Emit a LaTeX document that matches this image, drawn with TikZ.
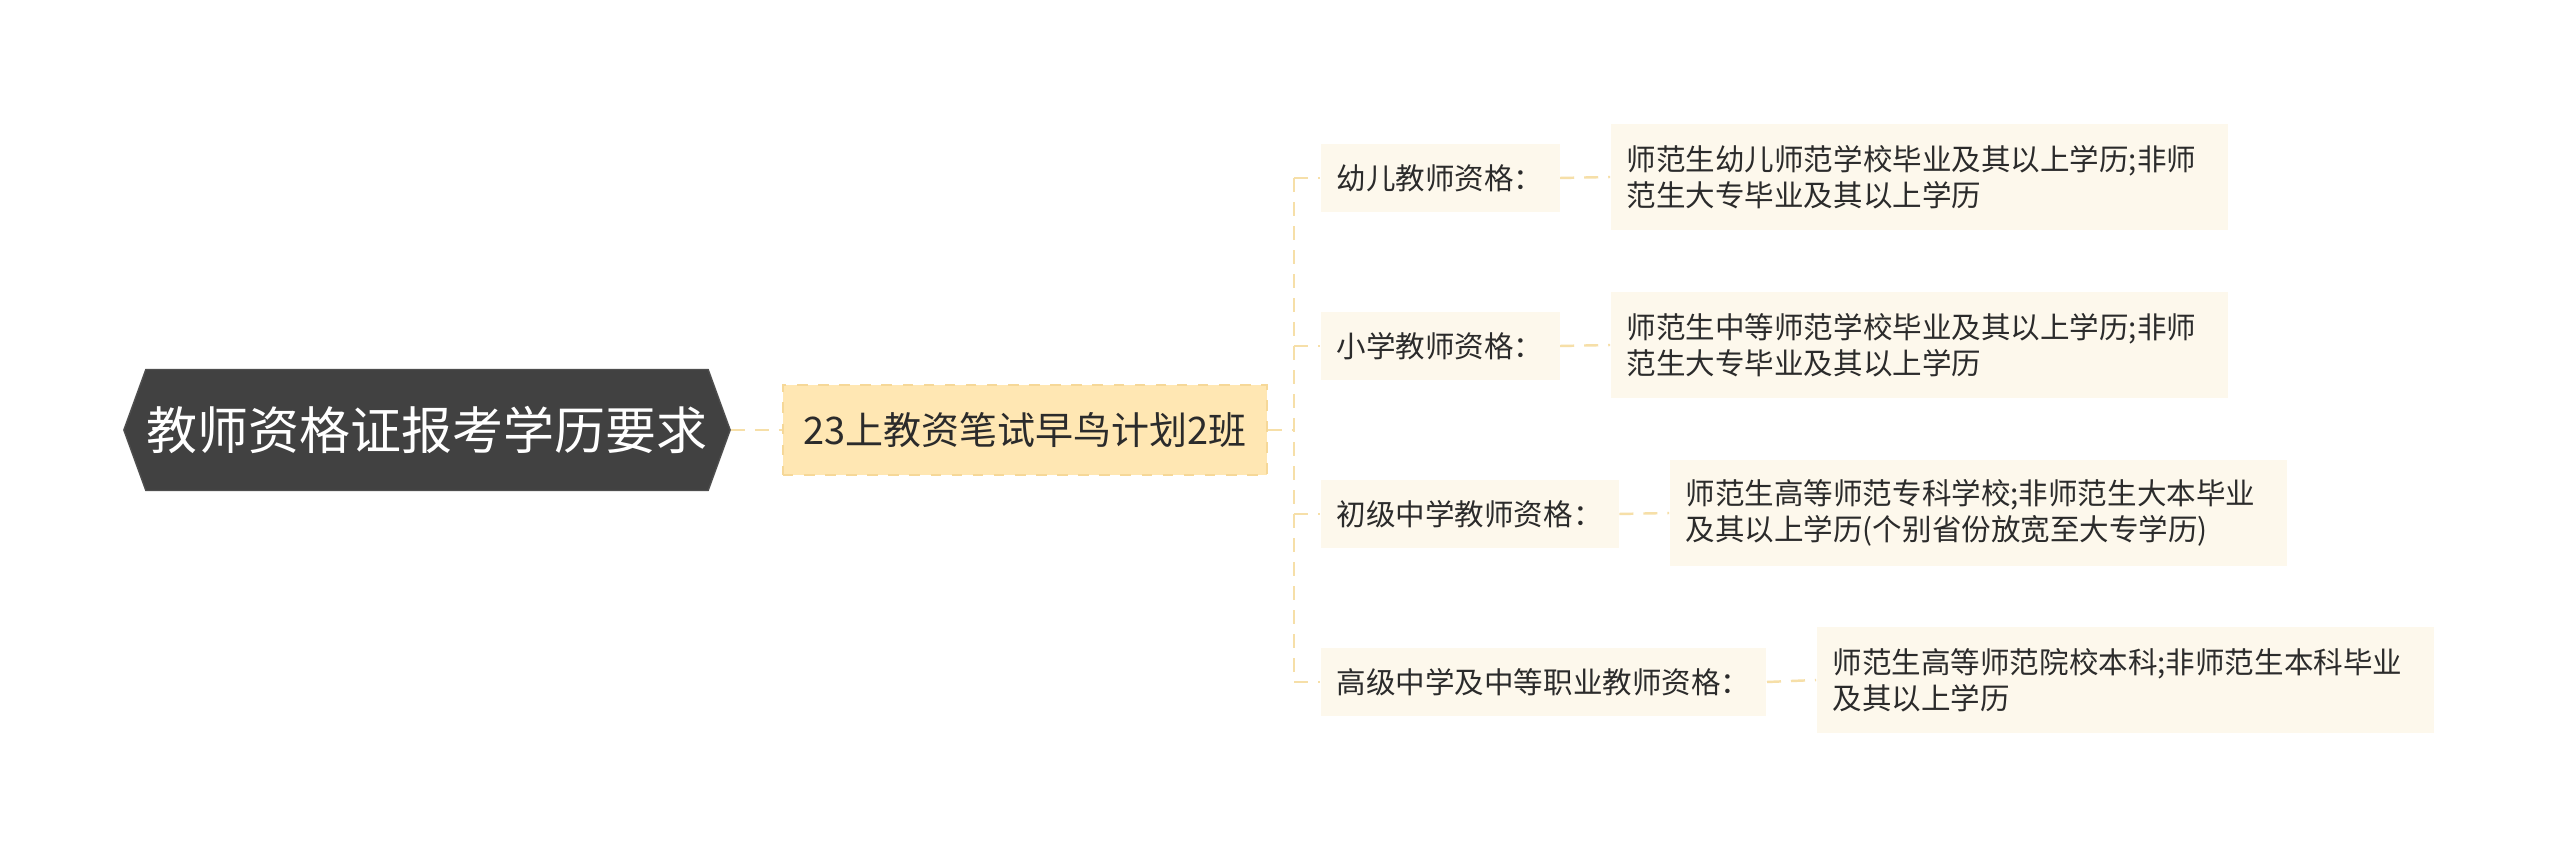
\documentclass[tikz,border=0pt]{standalone}
\usepackage{fontspec}
\setmainfont{Noto Sans CJK SC}
\usepackage{xcolor}
\usetikzlibrary{positioning,calc,shapes.symbols}
\definecolor{rootgray}{HTML}{414141}
\definecolor{rootedge}{HTML}{4E4E4E}
\definecolor{midfill}{HTML}{FFE7B3}
\definecolor{midedge}{HTML}{F6D898}
\definecolor{cream}{HTML}{FDF8EC}
\definecolor{linkgold}{HTML}{F6DFA8}
\definecolor{ink}{HTML}{2B2B2B}

\begin{document}
\begin{tikzpicture}[x=0.01cm,y=-0.01cm, rootn/.style={shape=signal,signal to=west and east,signal pointer angle=140,draw=rootedge,fill=rootgray,text=white,minimum width=6.06cm,minimum height=1.21cm,inner xsep=0pt,font=\fontsize{14.5pt}{17pt}\selectfont}, midn/.style={draw=midedge,dashed,fill=midfill,text=ink,minimum width=4.84cm,minimum height=0.9cm,inner xsep=0.19cm,font=\fontsize{10.8pt}{13pt}\selectfont}, brn/.style={fill=cream,text=ink,minimum height=0.68cm,inner xsep=0.16cm,anchor=west,font=\fontsize{8.4pt}{10.2pt}\selectfont}, leafn/.style={fill=cream,text=ink,minimum height=1.06cm,text width=5.85cm,align=left,inner xsep=0.16cm,anchor=west,font=\fontsize{8.4pt}{10.2pt}\selectfont}, link/.style={draw=linkgold,line width=0.7pt,dash pattern=on 0.14cm off 0.1cm}]
\useasboundingbox[fill=white] (0,0) rectangle (2560,861);
\node[rootn] (root) at (427,430) {教师资格证报考学历要求};
\node[midn]  (mid)  at (1025,430) {23上教资笔试早鸟计划2班};
\coordinate  (sp)   at (1294,430);
\node[brn] (b1) at (1320,178) {幼儿教师资格：};
\node[brn] (b2) at (1320,346) {小学教师资格：};
\node[brn] (b3) at (1320,514) {初级中学教师资格：};
\node[brn] (b4) at (1320,682) {高级中学及中等职业教师资格：};
\node[leafn] (l1) at (1610,177) {师范生幼儿师范学校毕业及其以上学历;非师\\范生大专毕业及其以上学历};
\node[leafn] (l2) at (1610,345) {师范生中等师范学校毕业及其以上学历;非师\\范生大专毕业及其以上学历};
\node[leafn] (l3) at (1669,513) {师范生高等师范专科学校;非师范生大本毕业\\及其以上学历(个别省份放宽至大专学历)};
\node[leafn] (l4) at (1816,680) {师范生高等师范院校本科;非师范生本科毕业\\及其以上学历};
\draw[link] (root.east) -- (mid.west);
\draw[link] (mid.east) -- (sp);
\draw[link] (sp |- b1.west) -- (sp |- b4.west);
\draw[link] (sp |- b1.west) -- (b1.west);
\draw[link] (sp |- b2.west) -- (b2.west);
\draw[link] (sp |- b3.west) -- (b3.west);
\draw[link] (sp |- b4.west) -- (b4.west);
\draw[link] (b1.east) -- (l1.west);
\draw[link] (b2.east) -- (l2.west);
\draw[link] (b3.east) -- (l3.west);
\draw[link] (b4.east) -- (l4.west);
\end{tikzpicture}
\end{document}
